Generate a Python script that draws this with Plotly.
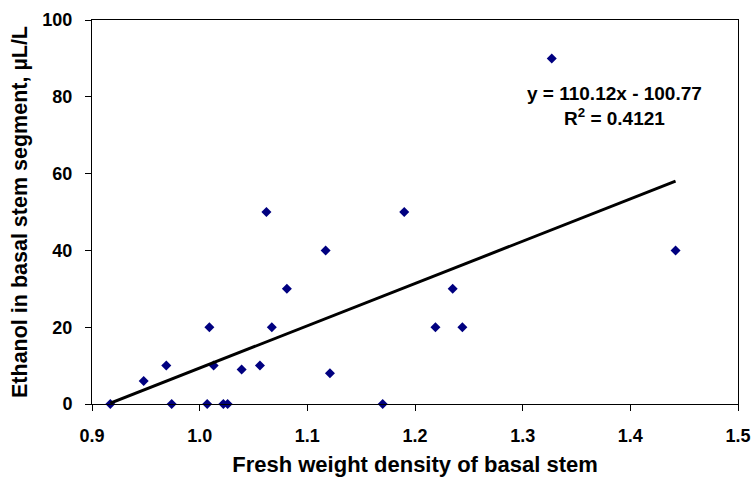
import plotly.graph_objects as go

# Data
density = [0.917, 0.948, 0.969, 0.974, 1.007, 1.009, 1.013, 1.022, 1.026, 1.039,
           1.056, 1.062, 1.067, 1.081, 1.117, 1.121, 1.170, 1.190, 1.219, 1.235,
           1.244, 1.327, 1.442]
ethanol = [0, 6, 10, 0, 0, 20, 10, 0, 0, 9,
           10, 50, 20, 30, 40, 8, 0, 50, 20, 30,
           20, 90, 40]

slope = 110.12
intercept = -100.77
r_squared = 0.4121

x_ticks = [0.9, 1.0, 1.1, 1.2, 1.3, 1.4, 1.5]
y_ticks = [0, 20, 40, 60, 80, 100]

FONT = "Liberation Sans, Arial, sans-serif"

x_line = [min(density), max(density)]
y_line = [slope * v + intercept for v in x_line]

fig = go.Figure()
fig.add_trace(go.Scatter(
    x=density, y=ethanol, mode="markers",
    marker=dict(symbol="diamond", size=7.7, color="#000080", line=dict(width=0)),
    showlegend=False, cliponaxis=False,
))
fig.add_trace(go.Scatter(
    x=x_line, y=y_line, mode="lines",
    line=dict(color="black", width=3),
    showlegend=False,
))

fig.add_annotation(
    x=1.3856, y=77.5, xref="x", yref="y",
    text=f"y = {slope:.2f}x - {abs(intercept):.2f}<br>R<sup>2</sup> = {r_squared:.4f}",
    showarrow=False, align="center", xanchor="center", yanchor="middle",
    font=dict(family=FONT, size=19, color="black", weight="bold"),
)

fig.update_layout(
    width=754, height=482,
    margin=dict(l=92, r=16, t=20, b=78),
    paper_bgcolor="white", plot_bgcolor="white",
    font=dict(family=FONT, color="black", size=18, weight="bold"),
)
fig.update_xaxes(
    range=[0.9, 1.5], tickvals=x_ticks, tickformat=".1f",
    automargin=False,
    showgrid=False, zeroline=False,
    showline=True, linecolor="black", linewidth=1, mirror=True,
    ticks="outside", ticklen=6, tickcolor="black", tickwidth=1,
    ticklabelstandoff=9,
    tickfont=dict(family=FONT, size=18, color="black", weight="bold"),
    title=dict(text="Fresh weight density of basal stem",
               font=dict(family=FONT, size=22, color="black", weight="bold"),
               standoff=12),
)
fig.update_yaxes(
    range=[0, 100], tickvals=y_ticks,
    automargin=False,
    showgrid=False, zeroline=False,
    showline=True, linecolor="black", linewidth=1, mirror=True,
    ticks="outside", ticklen=6, tickcolor="black", tickwidth=1,
    ticklabelstandoff=9,
    tickfont=dict(family=FONT, size=18, color="black", weight="bold"),
    title=dict(text="Ethanol in basal stem segment, µL/L",
               font=dict(family=FONT, size=21.5, color="black", weight="bold"),
               standoff=8),
)

fig.write_html("out.html")
